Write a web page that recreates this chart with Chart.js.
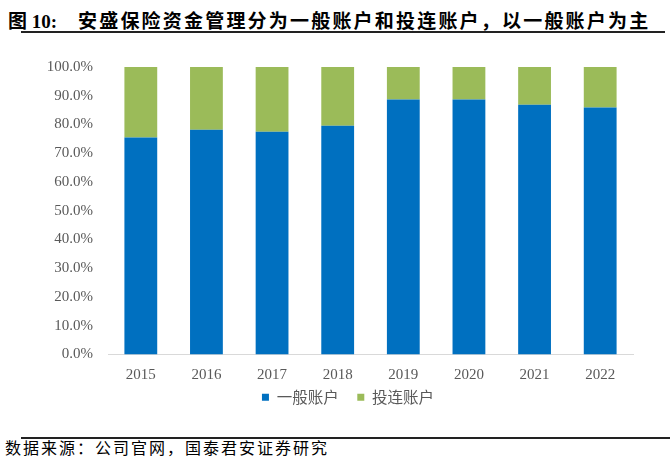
<!DOCTYPE html>
<html>
<head>
<meta charset="utf-8">
<script src="https://cdn.jsdelivr.net/npm/chart.js@4.4.0/dist/chart.umd.min.js"></script>
<style>
	body { margin: 0; width: 672px; height: 467px; background: #fff; position: relative; overflow: hidden; }
	.title { position: absolute; top: 6px; left: 8px; font: bold 19px "Liberation Serif", "Noto Sans CJK SC"; color: #000; white-space: nowrap; }
	.title .cn { position: absolute; left: 70px; top: 0; letter-spacing: 2.2px; }
	.rule { position: absolute; left: 21px; height: 2px; background: #222; }
	.source { position: absolute; left: 5px; top: 435px; font: 16px "Noto Sans CJK SC", "Liberation Serif"; letter-spacing: 2px; color: #000; white-space: nowrap; }
	#wrap { position: absolute; left: 23px; top: 43px; width: 649px; height: 379px; }
</style>
</head>
<body>
<div class="title">图 10:<span class="cn">安盛保险资金管理分为一般账户和投连账户，以一般账户为主</span></div>
<div class="rule" style="top:31px; width:644px;"></div>
<div id="wrap"><canvas id="accountChart"></canvas></div>
<div class="rule" style="top:437px; width:649px;"></div>
<div class="source">数据来源：公司官网，国泰君安证券研究</div>
<script>
// values (%)
const years = ['2015', '2016', '2017', '2018', '2019', '2020', '2021', '2022'];
const generalAccount = [75.5, 78.2, 77.5, 79.6, 88.7, 88.7, 86.9, 85.9];
const unitLinkedAccount = [24.5, 21.8, 22.5, 20.4, 11.3, 11.3, 13.1, 14.1];
const seriesNames = ['一般账户', '投连账户'];

const tickFont = { family: '"Liberation Serif", "Noto Sans CJK SC"', size: 15 };

// the legend in the original sits a bit right of centre and close to the year labels
const legendOffset = {
	id: 'legendOffset',
	afterLayout: function (chart) {
		const lg = chart.legend;
		lg.left += 20;
		lg.right += 20;
		lg.top -= 7;
		lg.bottom -= 7;
	}
};

const ctx = document.getElementById('accountChart').getContext('2d');
const myChart = new Chart(ctx, {
	type: 'bar',
	data: {
		labels: years,
		datasets: [
			{
				label: seriesNames[0],
				data: generalAccount,
				backgroundColor: '#0070C0',
				barPercentage: 0.5,
				categoryPercentage: 1
			},
			{
				label: seriesNames[1],
				data: unitLinkedAccount,
				backgroundColor: '#9BBB59',
				barPercentage: 0.5,
				categoryPercentage: 1
			}
		]
	},
	options: {
		responsive: true,
		maintainAspectRatio: false,
		animation: false,
		layout: { padding: { top: 9, right: 39, bottom: 0, left: 0 } },
		scales: {
			x: {
				stacked: true,
				grid: { display: false, drawTicks: false },
				border: { display: true, color: '#d9d9d9', width: 1 },
				ticks: { color: '#595959', font: tickFont, padding: 12 }
			},
			y: {
				stacked: true,
				min: 0,
				max: 100,
				grid: { display: false, drawTicks: false },
				border: { display: false },
				afterFit: function (scale) { scale.width = 85; },
				ticks: {
					stepSize: 10,
					color: '#595959',
					font: tickFont,
					padding: 15,
					callback: function (v) { return v.toFixed(1) + '%'; }
				}
			}
		},
		plugins: {
			legend: {
				position: 'bottom',
				labels: {
					boxWidth: 7,
					boxHeight: 7,
					padding: 0,
					color: '#595959',
					font: { family: '"Noto Sans CJK SC"', size: 15.5 },
					// extra space after the first item, the gap between items is small otherwise
					generateLabels: function (chart) {
						const items = Chart.defaults.plugins.legend.labels.generateLabels(chart);
						items[0].text = items[0].text + '\u2003\u2009';
						return items;
					}
				}
			},
			tooltip: { enabled: false }
		}
	},
	plugins: [legendOffset]
});
</script>
</body>
</html>
